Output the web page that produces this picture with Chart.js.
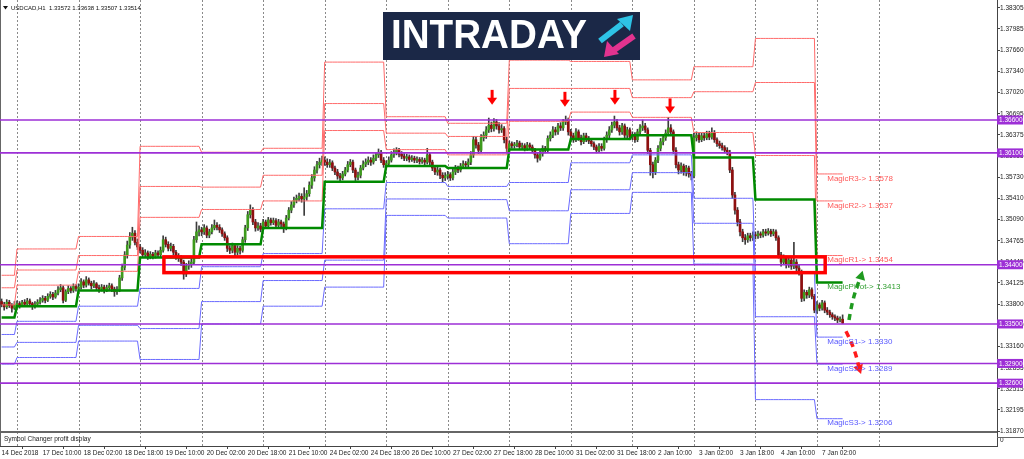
<!DOCTYPE html>
<html>
<head>
<meta charset="utf-8">
<script src="https://cdn.jsdelivr.net/npm/chart.js@4.4.1/dist/chart.umd.min.js"></script>
<style>
html,body{margin:0;padding:0;background:#fff;overflow:hidden}
canvas{display:block}
</style>
</head>
<body>
<canvas id="c" width="1024" height="459"></canvas>
<script>
// USDCAD H1, one value per bar, 14 Dec 2018 18:00 .. 7 Jan 2019 10:00
const close=[
1.3380,1.3376,1.3383,1.3378,1.3374,1.3379,
1.3381,1.3379,1.3383,1.3380,1.3385,1.3381,1.3377,1.3380,1.3383,1.3386,1.3389,1.3386,1.3392,1.3395,1.3391,1.3397,1.3402,1.3405,1.3386,1.3399,1.3404,1.3401,1.3407,1.3404,
1.3406,1.3414,1.3409,1.3417,1.3412,1.3408,1.3411,1.3405,1.3403,1.3406,1.3402,1.3405,1.3408,1.3403,1.3399,1.3402,1.3420,1.3436,1.3455,1.3470,1.3482,1.3488,1.3474,1.3467,
1.3462,1.3455,1.3458,1.3452,1.3456,1.3453,1.3458,1.3455,1.3462,1.3478,1.3471,1.3465,1.3468,1.3459,1.3452,1.3450,1.3444,1.3426,1.3438,1.3441,1.3444,1.3478,1.3490,1.3493,
1.3490,1.3496,1.3485,1.3490,1.3496,1.3500,1.3497,1.3493,1.3487,1.3481,1.3465,1.3462,1.3469,1.3459,1.3465,1.3462,1.3478,1.3496,1.3516,1.3523,1.3505,1.3496,1.3499,1.3494,
1.3505,1.3499,1.3508,1.3504,1.3507,1.3500,1.3505,1.3502,1.3496,1.3511,1.3523,1.3531,1.3538,1.3541,1.3544,1.3540,1.3543,1.3548,1.3561,1.3572,1.3584,1.3592,1.3596,1.3599,
1.3596,1.3592,1.3595,1.3587,1.3581,1.3575,1.3572,1.3578,1.3584,1.3592,1.3596,1.3584,1.3573,1.3576,1.3587,1.3593,1.3596,1.3599,1.3596,1.3602,1.3607,1.3611,1.3599,1.3592,
1.3594,1.3599,1.3607,1.3611,1.3614,1.3608,1.3605,1.3602,1.3604,1.3600,1.3602,1.3599,1.3600,1.3597,1.3599,1.3596,1.3607,1.3596,1.3587,1.3581,1.3584,1.3576,1.3572,1.3575,
1.3577,1.3572,1.3581,1.3587,1.3584,1.3590,1.3593,1.3592,1.3596,1.3607,1.3630,1.3622,1.3614,1.3633,1.3637,1.3645,1.3652,1.3647,1.3657,1.3651,1.3645,1.3647,1.3630,1.3617,
1.3624,1.3621,1.3622,1.3625,1.3619,1.3621,1.3617,1.3622,1.3619,1.3614,1.3607,1.3602,1.3609,1.3617,1.3614,1.3632,1.3637,1.3645,1.3642,1.3651,1.3648,1.3657,1.3660,1.3642,
1.3636,1.3630,1.3642,1.3633,1.3627,1.3636,1.3631,1.3628,1.3624,1.3619,1.3614,1.3620,1.3617,1.3630,1.3637,1.3645,1.3652,1.3657,1.3648,1.3642,1.3651,1.3637,1.3645,1.3634,
1.3638,1.3630,1.3642,1.3648,1.3651,1.3645,1.3614,1.3592,1.3581,1.3599,1.3617,1.3627,1.3633,1.3640,1.3648,1.3642,1.3614,1.3592,1.3584,1.3590,1.3581,1.3587,1.3578,1.3575,
1.3633,1.3637,1.3630,1.3636,1.3633,1.3639,1.3634,1.3640,1.3630,1.3624,1.3621,1.3618,1.3614,1.3611,1.3584,1.3546,1.3523,1.3505,1.3490,1.3481,1.3478,1.3484,1.3481,1.3485,
1.3484,1.3487,1.3485,1.3490,1.3488,1.3491,1.3487,1.3490,1.3481,1.3455,1.3444,1.3450,1.3440,1.3447,1.3438,1.3444,1.3435,1.3429,1.3389,1.3398,1.3394,1.3402,1.3392,1.3371,
1.3379,1.3374,1.3382,1.3371,1.3368,1.3364,1.3361,1.3359,1.3356,1.33572,1.33514
];
const high=[
1.3388,1.3383,1.3387,1.3386,1.3381,1.3384,
1.3385,1.3384,1.3386,1.3387,1.3389,1.3388,1.3383,1.3384,1.3387,1.3390,1.3393,1.3392,1.3396,1.3399,1.3398,1.3401,1.3407,1.3410,1.3408,1.3402,1.3408,1.3407,1.3411,1.3410,
1.3411,1.3419,1.3417,1.3422,1.3420,1.3415,1.3416,1.3413,1.3409,1.3410,1.3409,1.3409,1.3412,1.3411,1.3406,1.3407,1.3424,1.3441,1.3460,1.3476,1.3489,1.3497,1.3492,1.3479,
1.3471,1.3466,1.3463,1.3461,1.3460,1.3459,1.3462,1.3461,1.3467,1.3484,1.3482,1.3475,1.3473,1.3471,1.3462,1.3457,1.3454,1.3447,1.3442,1.3446,1.3449,1.3483,1.3505,1.3499,
1.3497,1.3501,1.3499,1.3494,1.3501,1.3508,1.3504,1.3501,1.3496,1.3490,1.3484,1.3469,1.3473,1.3472,1.3469,1.3468,1.3482,1.3500,1.3521,1.3531,1.3527,1.3509,1.3504,1.3503,
1.3509,1.3508,1.3512,1.3511,1.3511,1.3510,1.3509,1.3508,1.3505,1.3515,1.3527,1.3536,1.3543,1.3546,1.3549,1.3548,1.3557,1.3553,1.3566,1.3577,1.3589,1.3597,1.3602,1.3605,
1.3604,1.3601,1.3600,1.3598,1.3590,1.3585,1.3579,1.3582,1.3588,1.3597,1.3600,1.3599,1.3587,1.3581,1.3591,1.3598,1.3601,1.3604,1.3603,1.3607,1.3611,1.3616,1.3614,1.3603,
1.3598,1.3604,1.3612,1.3616,1.3618,1.3617,1.3612,1.3609,1.3608,1.3607,1.3606,1.3605,1.3604,1.3603,1.3603,1.3602,1.3617,1.3610,1.3599,1.3591,1.3589,1.3587,1.3580,1.3580,
1.3582,1.3580,1.3585,1.3591,1.3590,1.3594,1.3598,1.3597,1.3601,1.3612,1.3635,1.3634,1.3626,1.3638,1.3642,1.3650,1.3663,1.3657,1.3662,1.3661,1.3656,1.3653,1.3650,1.3634,
1.3628,1.3627,1.3626,1.3629,1.3628,1.3625,1.3624,1.3626,1.3625,1.3622,1.3617,1.3610,1.3613,1.3621,1.3620,1.3636,1.3642,1.3650,1.3649,1.3655,1.3656,1.3661,1.3666,1.3663,
1.3646,1.3640,1.3647,1.3645,1.3637,1.3640,1.3640,1.3635,1.3632,1.3627,1.3622,1.3624,1.3624,1.3634,1.3642,1.3650,1.3657,1.3666,1.3661,1.3652,1.3655,1.3654,1.3649,1.3648,
1.3642,1.3641,1.3646,1.3653,1.3660,1.3655,1.3648,1.3617,1.3596,1.3603,1.3621,1.3632,1.3638,1.3645,1.3664,1.3653,1.3645,1.3618,1.3596,1.3595,1.3593,1.3591,1.3590,1.3582,
1.3640,1.3642,1.3641,1.3640,1.3640,1.3643,1.3643,1.3648,1.3644,1.3633,1.3628,1.3625,1.3621,1.3618,1.3614,1.3588,1.3550,1.3527,1.3509,1.3494,1.3486,1.3488,1.3488,1.3490,
1.3490,1.3491,1.3490,1.3494,1.3494,1.3495,1.3494,1.3494,1.3493,1.3484,1.3459,1.3455,1.3453,1.3451,1.3450,1.3474,1.3448,1.3439,1.3432,1.3402,1.3401,1.3406,1.3405,1.3395,
1.3384,1.3382,1.3386,1.3385,1.3375,1.3371,1.3367,1.3364,1.3362,1.3361,1.33638
];
const low=[
1.3376,1.3371,1.3373,1.3375,1.3368,1.3372,
1.3376,1.3374,1.3377,1.3377,1.3378,1.3378,1.3372,1.3374,1.3378,1.3380,1.3383,1.3382,1.3384,1.3389,1.3387,1.3389,1.3394,1.3399,1.3382,1.3384,1.3396,1.3397,1.3398,1.3400,
1.3400,1.3403,1.3405,1.3406,1.3409,1.3403,1.3405,1.3401,1.3398,1.3400,1.3397,1.3399,1.3402,1.3399,1.3392,1.3395,1.3399,1.3416,1.3432,1.3450,1.3465,1.3477,1.3470,1.3463,
1.3458,1.3451,1.3451,1.3448,1.3449,1.3449,1.3450,1.3451,1.3452,1.3459,1.3467,1.3461,1.3461,1.3455,1.3448,1.3445,1.3439,1.3418,1.3422,1.3433,1.3436,1.3440,1.3474,1.3484,
1.3484,1.3486,1.3481,1.3481,1.3487,1.3493,1.3493,1.3489,1.3483,1.3477,1.3460,1.3457,1.3458,1.3452,1.3455,1.3456,1.3459,1.3474,1.3492,1.3511,1.3501,1.3491,1.3492,1.3490,
1.3491,1.3495,1.3496,1.3500,1.3501,1.3496,1.3497,1.3498,1.3489,1.3493,1.3508,1.3519,1.3527,1.3534,1.3537,1.3535,1.3515,1.3538,1.3544,1.3556,1.3567,1.3579,1.3587,1.3591,
1.3591,1.3588,1.3588,1.3583,1.3577,1.3570,1.3567,1.3569,1.3575,1.3581,1.3589,1.3580,1.3568,1.3569,1.3572,1.3584,1.3589,1.3592,1.3591,1.3593,1.3598,1.3603,1.3595,1.3588,
1.3588,1.3590,1.3596,1.3603,1.3607,1.3604,1.3601,1.3598,1.3598,1.3596,1.3597,1.3595,1.3595,1.3593,1.3594,1.3591,1.3593,1.3592,1.3583,1.3577,1.3576,1.3571,1.3566,1.3568,
1.3570,1.3568,1.3569,1.3577,1.3580,1.3581,1.3586,1.3588,1.3588,1.3592,1.3603,1.3617,1.3609,1.3610,1.3628,1.3632,1.3641,1.3642,1.3643,1.3646,1.3640,1.3641,1.3625,1.3612,
1.3613,1.3617,1.3617,1.3619,1.3615,1.3616,1.3613,1.3614,1.3615,1.3610,1.3602,1.3596,1.3599,1.3605,1.3610,1.3611,1.3628,1.3633,1.3637,1.3638,1.3644,1.3644,1.3653,1.3637,
1.3632,1.3626,1.3627,1.3629,1.3622,1.3624,1.3627,1.3624,1.3620,1.3615,1.3610,1.3611,1.3613,1.3614,1.3626,1.3633,1.3641,1.3648,1.3644,1.3637,1.3638,1.3633,1.3633,1.3630,
1.3630,1.3626,1.3627,1.3638,1.3644,1.3641,1.3609,1.3576,1.3572,1.3577,1.3595,1.3613,1.3622,1.3629,1.3636,1.3637,1.3609,1.3587,1.3578,1.3579,1.3576,1.3575,1.3573,1.3569,
1.3572,1.3628,1.3626,1.3627,1.3629,1.3630,1.3630,1.3631,1.3626,1.3620,1.3617,1.3614,1.3610,1.3607,1.3580,1.3541,1.3517,1.3499,1.3484,1.3475,1.3471,1.3474,1.3476,1.3477,
1.3479,1.3480,1.3481,1.3482,1.3484,1.3485,1.3483,1.3484,1.3477,1.3450,1.3438,1.3440,1.3435,1.3436,1.3433,1.3434,1.3430,1.3424,1.3384,1.3385,1.3389,1.3390,1.3388,1.3367,
1.3366,1.3370,1.3371,1.3367,1.3364,1.3360,1.3357,1.3355,1.3352,1.3353,1.33507
];
const firstOpen=1.3384;

// first bar of each trading day (14 Dec .. 7 Jan), next separator is 8 Jan
const dayStart=[0,6,30,54,78,102,126,150,174,198,222,246,270,294,318];
const nextDay=342;

// daily pivot levels, one per day
const pivot=[1.3360,1.3377,1.3401,1.3451,1.3471,1.3496,1.3566,1.3590,1.3587,1.3615,1.3631,1.3637,1.3603,1.3539,1.3413];
const r1=[1.3379,1.3409,1.3430,1.3512,1.3524,1.3537,1.3644,1.3615,1.3607,1.3658,1.3672,1.3664,1.3641,1.3606,1.3454];
const r2=[1.3405,1.3432,1.3454,1.3559,1.3558,1.3576,1.3685,1.3640,1.3635,1.3708,1.3708,1.3694,1.3703,1.3717,1.3537];
const r3=[1.3424,1.3464,1.3483,1.3620,1.3611,1.3617,1.3748,1.3665,1.3655,1.3751,1.3749,1.3721,1.3741,1.3784,1.3578];
const s1=[1.3334,1.3354,1.3377,1.3404,1.3437,1.3457,1.3525,1.3565,1.3559,1.3565,1.3595,1.3607,1.3541,1.3428,1.3330];
const s2=[1.3315,1.3322,1.3348,1.3343,1.3384,1.3416,1.3447,1.3540,1.3539,1.3522,1.3554,1.3580,1.3503,1.3361,1.3289];
const s3=[1.3289,1.3299,1.3324,1.3296,1.3350,1.3377,1.3406,1.3515,1.3511,1.3472,1.3518,1.3550,1.3441,1.3235,1.3206];

const hLevels=[1.366,1.361,1.344,1.335,1.329,1.326];

const yTicks=[1.38305,1.37985,1.3766,1.3734,1.3702,1.36695,1.36375,1.36055,1.3573,1.3541,1.3509,1.34765,1.34445,1.34125,1.338,1.3348,1.3316,1.32835,1.32515,1.32195,1.3187];
const xTickBars=[0,16,32,48,64,80,96,112,128,144,160,176,192,208,224,240,256,272,288,304,320];
const xTickLabels=["14 Dec 2018","17 Dec 10:00","18 Dec 02:00","18 Dec 18:00","19 Dec 10:00","20 Dec 02:00","20 Dec 18:00","21 Dec 10:00","24 Dec 02:00","24 Dec 18:00","26 Dec 10:00","27 Dec 02:00","27 Dec 18:00","28 Dec 10:00","31 Dec 02:00","31 Dec 18:00","2 Jan 10:00","3 Jan 02:00","3 Jan 18:00","4 Jan 10:00","7 Jan 02:00"];

// annotations
const arrowBars=[191.3,219.7,239.2,260.7];
const arrowTips=[1.3683,1.3680,1.3683,1.3670];
const boxBars=[63.3,321.2];
const boxPrices=[1.3452,1.3428];
const upBars=[330.5,335.8];
const upPrices=[1.3356,1.3431];
const downBars=[329.3,335.2];
const downPrices=[1.3339,1.3274];
const labelBar=322;

const open=close.map((c,i)=>i?close[i-1]:firstOpen);

function expand(levels){
  const out=[];
  for(let d=0;d<dayStart.length;d++){
    const end=d+1<dayStart.length?dayStart[d+1]:close.length;
    for(let i=dayStart[d];i<end;i++) out.push({x:i,y:levels[d]});
  }
  return out;
}

const RED="#ff6a6a", BLUE="#6a6aff", GREEN="#008a00", PURPLE="#9d2fd6";

const wicks=close.map((c,i)=>({x:i,y:[low[i],high[i]]}));
const bodies=close.map((c,i)=>({x:i,y:[open[i],c]}));
const bodyCol=close.map((c,i)=>c>=open[i]?"#3d9a1c":"#8e0f0f");

const lineDs=(data,color,w)=>({type:"line",data,borderColor:color,borderWidth:w,pointRadius:0,tension:0,fill:false,order:1});

const datasets=[
  lineDs(expand(pivot),GREEN,2.5),
  lineDs(expand(r1),RED,1),lineDs(expand(r2),RED,1),lineDs(expand(r3),RED,1),
  lineDs(expand(s1),BLUE,1),lineDs(expand(s2),BLUE,1),lineDs(expand(s3),BLUE,1),
  {type:"bar",data:bodies,backgroundColor:bodyCol,barThickness:2,minBarLength:1,grouped:false,order:2},
  {type:"bar",data:wicks,backgroundColor:"#3c3c3c",barThickness:1,grouped:false,order:3}
];
hLevels.forEach(v=>datasets.unshift(lineDs([{x:-1,y:v},{x:400,y:v}],PURPLE,1.6)));

const X=(c,v)=>c.scales.x.getPixelForValue(v);
const Y=(c,v)=>c.scales.y.getPixelForValue(v);

function dashedArrow(ctx,x0,y0,x1,y1,color){
  const dx=x1-x0,dy=y1-y0,len=Math.hypot(dx,dy),ux=dx/len,uy=dy/len;
  ctx.strokeStyle=color;ctx.fillStyle=color;ctx.lineWidth=3.5;
  ctx.setLineDash([6,5]);
  ctx.beginPath();ctx.moveTo(x0,y0);
  ctx.quadraticCurveTo((x0+x1)/2+uy*3,(y0+y1)/2-ux*3,x1-ux*7,y1-uy*7);
  ctx.stroke();ctx.setLineDash([]);
  ctx.beginPath();
  ctx.moveTo(x1,y1);
  ctx.lineTo(x1-ux*9-uy*5,y1-uy*9+ux*5);
  ctx.lineTo(x1-ux*9+uy*5,y1-uy*9-ux*5);
  ctx.closePath();ctx.fill();
}

const decor={
  id:"decor",
  beforeDatasetsDraw(c){
    const ctx=c.ctx,a=c.chartArea;
    ctx.save();
    ctx.strokeStyle="#8a8a8a";ctx.lineWidth=1;ctx.setLineDash([2,2]);
    dayStart.slice(1).concat([nextDay]).forEach(b=>{
      const x=Math.round(X(c,b))+0.5;
      ctx.beginPath();ctx.moveTo(x,a.top);ctx.lineTo(x,a.bottom);ctx.stroke();
    });
    ctx.setLineDash([]);
    // indicator sub window
    ctx.strokeStyle="#666";ctx.lineWidth=2;
    ctx.beginPath();ctx.moveTo(a.left,432);ctx.lineTo(a.right,432);ctx.stroke();
    ctx.fillStyle="#222";ctx.font='6.5px "Liberation Sans"';ctx.textBaseline="middle";
    ctx.fillText("Symbol Changer profit display",4,439);
    ctx.strokeStyle="#666";ctx.lineWidth=1;
    ctx.beginPath();ctx.moveTo(0.5,0);ctx.lineTo(0.5,a.bottom);ctx.stroke();
    ctx.restore();
  },
  afterDatasetsDraw(c){
    const ctx=c.ctx;
    ctx.save();
    // red box
    ctx.strokeStyle="#ff0000";ctx.lineWidth=3.5;
    const bx0=X(c,boxBars[0]),bx1=X(c,boxBars[1]),by0=Y(c,boxPrices[0]),by1=Y(c,boxPrices[1]);
    ctx.strokeRect(bx0,by0,bx1-bx0,by1-by0);
    // down arrows at the tops
    ctx.fillStyle="#ff0000";
    arrowBars.forEach((b,i)=>{
      const x=X(c,b),y=Y(c,arrowTips[i]);
      ctx.fillRect(x-1.5,y-15,3,9);
      ctx.beginPath();ctx.moveTo(x-5,y-7);ctx.lineTo(x+5,y-7);ctx.lineTo(x,y);ctx.closePath();ctx.fill();
    });
    dashedArrow(ctx,X(c,upBars[0]),Y(c,upPrices[0]),X(c,upBars[1]),Y(c,upPrices[1]),"#1f9a1f");
    dashedArrow(ctx,X(c,downBars[0]),Y(c,downPrices[0]),X(c,downBars[1]),Y(c,downPrices[1]),"#ff1a1a");
    // pivot labels
    const last=dayStart.length-1;
    const labs=[["MagicR3",r3,"#ff5a5a"],["MagicR2",r2,"#ff5a5a"],["MagicR1",r1,"#ff5a5a"],["MagicPivot",pivot,"#2f9e2f"],["MagicS1",s1,"#5a5aff"],["MagicS2",s2,"#5a5aff"],["MagicS3",s3,"#5a5aff"]];
    ctx.font='8px "Liberation Sans"';ctx.textBaseline="top";ctx.textAlign="left";
    labs.forEach(([n,arr,col])=>{
      ctx.fillStyle=col;
      ctx.fillText(n+"-> "+arr[last].toFixed(4),X(c,labelBar),Y(c,arr[last])+0.5);
    });
    // title
    const n=close.length-1;
    ctx.fillStyle="#111";
    ctx.beginPath();ctx.moveTo(3,6);ctx.lineTo(8,6);ctx.lineTo(5.5,9.5);ctx.closePath();ctx.fill();
    ctx.font='6px "Liberation Sans"';ctx.textBaseline="middle";
    ctx.fillText("USDCAD,H1  "+[open[n],high[n],low[n],close[n]].map(v=>v.toFixed(5)).join(" "),11,8);
    // logo
    ctx.fillStyle="#1b2847";ctx.fillRect(383,12,257,48);
    ctx.fillStyle="#fff";ctx.font='bold 40px "Liberation Sans"';ctx.textBaseline="middle";
    const w=ctx.measureText("INTRADAY").width;
    ctx.save();ctx.translate(391,37);ctx.scale(196/w,1.02);ctx.fillText("INTRADAY",0,0);ctx.restore();
    ctx.lineCap="butt";
    ctx.strokeStyle="#2ec3e6";ctx.fillStyle="#2ec3e6";ctx.lineWidth=6;
    ctx.beginPath();ctx.moveTo(600,41);ctx.lineTo(622,24);ctx.stroke();
    ctx.beginPath();ctx.moveTo(633,15);ctx.lineTo(630,31);ctx.lineTo(617,19);ctx.closePath();ctx.fill();
    ctx.strokeStyle="#e2338f";ctx.fillStyle="#e2338f";
    ctx.beginPath();ctx.moveTo(634,36);ctx.lineTo(614,50);ctx.stroke();
    ctx.beginPath();ctx.moveTo(604,57);ctx.lineTo(607,41);ctx.lineTo(619,54);ctx.closePath();ctx.fill();
    ctx.restore();
  },
  afterDraw(c){
    const ctx=c.ctx,a=c.chartArea;
    ctx.save();
    ctx.font='6.5px "Liberation Sans"';ctx.textBaseline="middle";ctx.textAlign="left";
    hLevels.forEach(v=>{
      const y=Y(c,v);
      ctx.fillStyle=PURPLE;ctx.fillRect(a.right,y-4.5,26,9);
      ctx.fillStyle="#fff";ctx.fillText(v.toFixed(5),a.right+2,y+0.5);
    });
    ctx.fillStyle="#222";ctx.fillText("0",a.right+3,440);
    ctx.strokeStyle="#666";ctx.lineWidth=1;
    ctx.beginPath();ctx.moveTo(a.right,437.5);ctx.lineTo(1024,437.5);ctx.stroke();
    ctx.restore();
  }
};

Chart.defaults.font.family="Liberation Sans";

new Chart(document.getElementById("c"),{
  type:"bar",
  data:{datasets},
  options:{
    responsive:false,
    animation:false,
    devicePixelRatio:1,
    events:[],
    layout:{padding:0},
    plugins:{legend:{display:false},tooltip:{enabled:false}},
    scales:{
      x:{
        type:"linear",min:-0.63,max:388.21,offset:false,position:"bottom",
        afterBuildTicks:s=>{s.ticks=xTickBars.map(v=>({value:v}));},
        afterFit:s=>{s.height=13;s.paddingLeft=0;s.paddingRight=0;},
        ticks:{autoSkip:false,maxRotation:0,minRotation:0,align:"start",padding:0,color:"#222",font:{size:6.5},
          callback:(v,i)=>xTickLabels[i]},
        grid:{drawOnChartArea:false,tickLength:3,color:"#444"},
        border:{display:true,color:"#444"}
      },
      y:{
        type:"linear",position:"right",min:1.31645,max:1.38424,
        afterBuildTicks:s=>{s.ticks=yTicks.map(v=>({value:v}));},
        afterFit:s=>{s.width=27;s.paddingTop=0;s.paddingBottom=0;},
        ticks:{padding:0,color:"#222",font:{size:6.5},callback:v=>v.toFixed(5)},
        grid:{drawOnChartArea:false,tickLength:3,color:"#444"},
        border:{display:true,color:"#444"}
      }
    }
  },
  plugins:[decor]
});
</script>
</body>
</html>
